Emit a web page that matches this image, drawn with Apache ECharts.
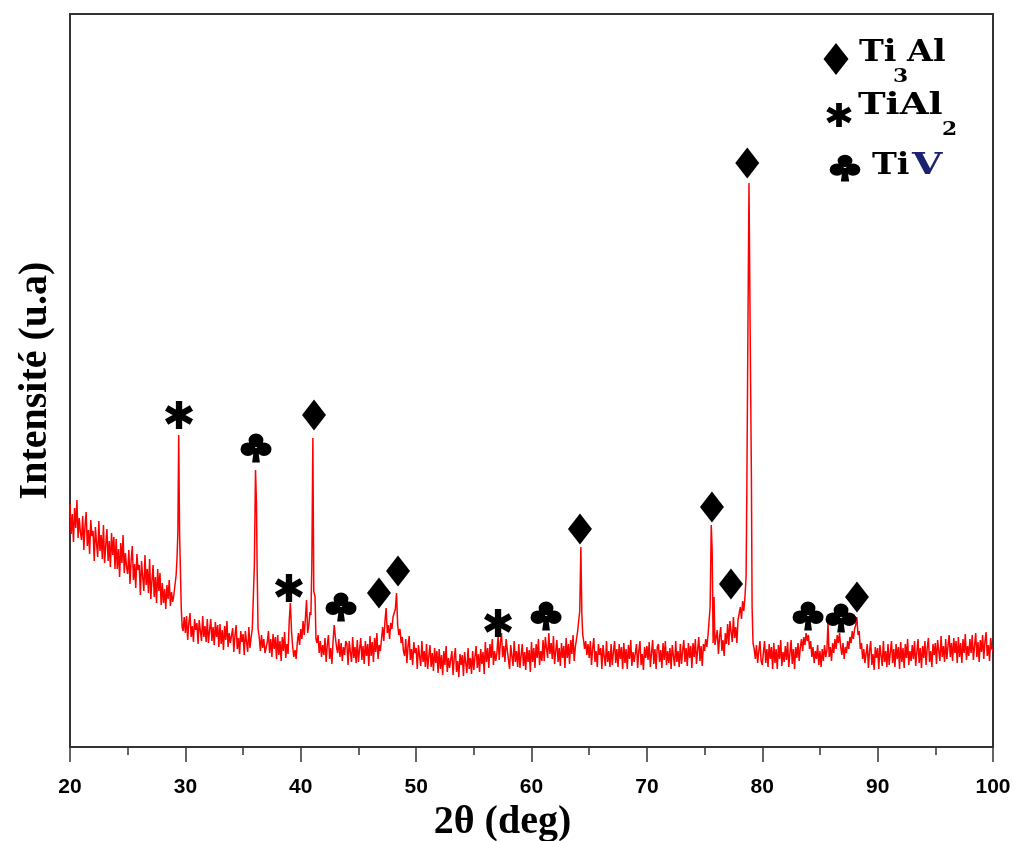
<!DOCTYPE html>
<html>
<head>
<meta charset="utf-8">
<title>XRD</title>
<script src="https://cdn.jsdelivr.net/npm/echarts@6/dist/echarts.min.js"></script>
<style>
  html, body { margin: 0; padding: 0; background: #fff; }
  #chart { width: 1019px; height: 841px; }
</style>
</head>
<body>
<div id="chart"></div>
<script>
// background counts, 20.0 .. 100.0 every 0.1 deg (a.u.)
// one row = one degree
const bgStart = 20;
const bgStep = 0.1;
const background = [
  243, 213, 233, 205, 239, 219, 247, 209, 229, 215,
  207, 231, 197, 221, 235, 201, 217, 193, 227, 211,
  216, 186, 220, 204, 190, 226, 196, 212, 188, 222,
  184, 202, 218, 186, 206, 180, 214, 192, 210, 178,
  208, 178, 198, 170, 204, 184, 212, 174, 194, 180,
  173, 197, 163, 187, 201, 167, 183, 159, 193, 177,
  182, 152, 186, 170, 156, 192, 162, 178, 154, 188,
  148, 166, 182, 150, 170, 144, 178, 156, 174, 142,
  164, 144, 158, 138, 162, 148, 167, 141, 155, 145,
  152, 150, 170, 190, 300, 210, 170, 130, 116, 130,
  114, 131, 107, 124, 134, 110, 121, 105, 128, 117,
  124, 103, 127, 116, 106, 131, 110, 121, 105, 128,
  104, 117, 128, 106, 120, 102, 125, 110, 122, 100,
  123, 103, 117, 97, 121, 107, 126, 100, 114, 104,
  102, 119, 95, 112, 122, 98, 109, 93, 116, 105,
  113, 92, 116, 105, 95, 120, 99, 110, 118, 135,
  180, 270, 200, 120, 110, 96, 112, 99, 108, 94,
  92, 105, 116, 94, 108, 90, 113, 98, 110, 88,
  112, 92, 106, 86, 110, 96, 115, 89, 103, 93,
  126, 144, 116, 100, 90, 97, 88, 104, 114, 102,
  118, 108, 126, 112, 128, 147, 114, 122, 135, 150,
  250, 200, 150, 110, 104, 112, 94, 106, 90, 102,
  92, 109, 85, 102, 112, 88, 99, 83, 106, 122,
  110, 100, 94, 108, 90, 104, 86, 100, 92, 106,
  103, 82, 106, 95, 85, 110, 89, 100, 84, 107,
  85, 98, 109, 87, 101, 83, 106, 91, 103, 81,
  111, 91, 105, 85, 109, 95, 114, 88, 102, 96,
  108, 120, 106, 126, 139, 114, 122, 108, 124, 118,
  130, 128, 138, 154, 122, 112, 118, 104, 110, 96,
  91, 108, 84, 101, 111, 87, 98, 82, 105, 94,
  99, 78, 102, 91, 81, 106, 85, 96, 80, 103,
  78, 91, 102, 80, 94, 76, 99, 84, 96, 74,
  98, 78, 92, 72, 96, 82, 101, 75, 89, 79,
  79, 96, 72, 89, 99, 75, 86, 70, 93, 82,
  92, 71, 95, 84, 74, 99, 78, 89, 73, 96,
  77, 90, 101, 79, 93, 75, 98, 83, 95, 73,
  105, 85, 99, 79, 103, 89, 108, 82, 96, 86,
  94, 111, 87, 104, 114, 90, 101, 85, 108, 97,
  99, 78, 102, 91, 81, 106, 85, 96, 80, 103,
  79, 92, 103, 81, 95, 77, 100, 85, 97, 75,
  105, 85, 99, 79, 103, 89, 108, 82, 96, 86,
  107, 86, 110, 99, 89, 114, 93, 104, 88, 111,
  83, 96, 107, 85, 99, 81, 104, 89, 101, 79,
  109, 89, 103, 83, 107, 93, 112, 86, 100, 108,
  116, 136, 180, 190, 112, 108, 98, 106, 92, 103,
  89, 106, 82, 99, 109, 85, 96, 80, 103, 92,
  99, 78, 102, 91, 81, 106, 85, 96, 80, 103,
  82, 95, 106, 84, 98, 80, 103, 88, 100, 78,
  104, 84, 98, 78, 102, 88, 107, 81, 95, 85,
  86, 103, 79, 96, 106, 82, 93, 77, 100, 89,
  101, 87, 105, 80, 94, 107, 83, 98, 78, 100,
  103, 85, 97, 79, 104, 87, 106, 82, 96, 84,
  99, 78, 102, 91, 81, 106, 85, 96, 80, 103,
  83, 96, 107, 85, 99, 81, 104, 89, 101, 79,
  104, 90, 108, 83, 97, 110, 86, 101, 81, 103,
  96, 108, 100, 112, 140, 180, 222, 150, 150, 102,
  100, 117, 93, 110, 120, 96, 107, 91, 114, 103,
  123, 102, 126, 115, 105, 130, 109, 120, 104, 127,
  125, 140, 128, 146, 136, 150, 170, 300, 500, 480,
  350, 200, 104, 98, 88, 102, 84, 96, 106, 86,
  82, 95, 106, 84, 98, 80, 103, 88, 100, 78,
  104, 84, 98, 78, 102, 88, 107, 81, 95, 85,
  101, 87, 105, 80, 94, 107, 83, 98, 78, 100,
  89, 104, 86, 100, 108, 96, 110, 102, 114, 106,
  112, 98, 106, 90, 100, 84, 96, 88, 102, 82,
  96, 80, 98, 86, 102, 90, 96, 124, 90, 100,
  86, 104, 94, 108, 98, 112, 104, 114, 100, 92,
  104, 88, 100, 94, 106, 98, 110, 104, 116, 108,
  118, 122, 130, 112, 116, 98, 104, 88, 98, 84,
  86, 103, 79, 96, 106, 82, 93, 77, 100, 89,
  99, 78, 102, 91, 81, 106, 85, 96, 80, 103,
  82, 95, 106, 84, 98, 80, 103, 88, 100, 78,
  105, 85, 99, 79, 103, 89, 108, 82, 96, 86,
  102, 88, 106, 81, 95, 108, 84, 99, 79, 101,
  89, 106, 82, 99, 109, 85, 96, 80, 103, 92,
  104, 83, 107, 96, 86, 111, 90, 101, 85, 108,
  88, 101, 112, 90, 104, 86, 109, 94, 106, 84,
  110, 90, 104, 84, 108, 94, 113, 87, 101, 91,
  108, 94, 112, 87, 101, 114, 90, 105, 85, 107,
  95, 112, 88, 105, 115, 91, 102, 86, 109, 98,
  96
];

// sharp reflections, finer sampling [2theta, counts]
const peak29 = [[29.1, 150], [29.2, 172], [29.28, 190], [29.35, 215], [29.42, 312], [29.5, 212], [29.56, 182], [29.64, 140], [29.72, 120]];
const peak36 = [[35.88, 118], [35.98, 182], [36.08, 277], [36.16, 244], [36.22, 178], [36.3, 118]];
const peak41 = [[40.88, 132], [40.96, 180], [41.05, 309], [41.13, 156], [41.24, 150], [41.32, 108]];
const peak64 = [[64.08, 118], [64.18, 136], [64.28, 200], [64.36, 134], [64.44, 112]];
const peak75 = [[75.38, 112], [75.48, 140], [75.58, 222], [75.66, 196], [75.74, 104], [75.82, 150], [75.9, 102]];
const peak79 = [[78.5, 150], [78.6, 170], [78.66, 250], [78.76, 420], [78.85, 564], [78.95, 420], [79.06, 270], [79.12, 140], [79.2, 104]];
const peaks = [peak29, peak36, peak41, peak64, peak75, peak79];

// phase marks placed over the reflections
const ti3alMarks = [[41.15, 332], [46.78, 154], [48.43, 176], [64.2, 218], [75.64, 240], [77.29, 163], [78.7, 584], [88.21, 150]];
const tial2Marks = [[29.45, 332], [38.98, 159], [57.1, 124]];
const tivMarks = [[36.12, 299], [43.49, 140], [61.26, 131], [83.97, 131], [86.83, 129]];

const xTicks = [20, 30, 40, 50, 60, 70, 80, 90, 100];

const STAR = 'path://M39,0L61,0L61,100L39,100Z M87.8,15.5L98.8,34.5L12.2,84.5L1.2,65.5Z M98.8,65.5L87.8,84.5L1.2,34.5L12.2,15.5Z';
const CLUB = 'path://M50,2A23,23,0,1,1,49.9,2Z M25,32A23,23,0,1,1,24.9,32Z M75,32A23,23,0,1,1,74.9,32Z M44,50L56,50L62,100L38,100Z';

const buildPattern = () => {
  const pts = [];
  background.forEach((h, i) => {
    const x = +(bgStart + i * bgStep).toFixed(2);
    const covered = peaks.some(p => x >= p[0][0] && x <= p[p.length - 1][0]);
    if (!covered) pts.push([x, h]);
  });
  peaks.forEach(p => p.forEach(pt => pts.push(pt)));
  pts.sort((a, b) => a[0] - b[0]);
  return pts;
};

const serif = '"Liberation Serif", "Times New Roman", serif';
const legendFont = '"DejaVu Serif", "Liberation Serif", serif';
const black = { fill: '#000' };

// legend glyphs, drawn in a 100 unit box centred on (0,0)
const diamondIcon = (cx, cy, w, h) => ({
  type: 'group', x: cx, y: cy, scaleX: w / 100, scaleY: h / 100,
  children: [{ type: 'polygon', shape: { points: [[0, -50], [50, 0], [0, 50], [-50, 0]] }, style: black }]
});
const starIcon = (cx, cy, w, h) => ({
  type: 'group', x: cx, y: cy, scaleX: w / 100, scaleY: h / 100,
  children: [0, 60, -60].map(d => ({
    type: 'rect', rotation: d * Math.PI / 180,
    shape: { x: -11, y: -50, width: 22, height: 100 }, style: black
  }))
});
const clubIcon = (cx, cy, w, h) => ({
  type: 'group', x: cx, y: cy, scaleX: w / 100, scaleY: h / 100,
  children: [
    { type: 'circle', shape: { cx: 0, cy: -26, r: 23 }, style: black },
    { type: 'circle', shape: { cx: -25, cy: 6, r: 23 }, style: black },
    { type: 'circle', shape: { cx: 25, cy: 6, r: 23 }, style: black },
    { type: 'polygon', shape: { points: [[-7, 0], [7, 0], [13, 50], [-13, 50]] }, style: black }
  ]
});
const legendText = (x, y, text, size, color, sx) => ({
  type: 'text', x: x, y: y, scaleX: sx || 1.15,
  style: { text: text, font: 'bold ' + size + 'px ' + legendFont, fill: color || '#000', align: 'left', verticalAlign: 'middle' }
});

var myChart = echarts.init(document.getElementById('chart'));
myChart.setOption({
  animation: false,
  backgroundColor: '#fff',
  grid: {
    left: 70, right: 26, top: 14, bottom: 94,
    show: true, borderColor: '#333', borderWidth: 2,
    outerBoundsMode: 'none'
  },
  xAxis: {
    type: 'value',
    min: 20, max: 100, interval: 10,
    name: '2θ (deg)',
    nameLocation: 'middle',
    nameGap: 50,
    nameTextStyle: { fontFamily: serif, fontWeight: 'bold', fontSize: 40, color: '#000', padding: [0, 58, 0, 0] },
    axisLine: { show: true, lineStyle: { color: '#333', width: 2 } },
    axisTick: { show: true, length: 15, lineStyle: { color: '#333', width: 1.5 } },
    minorTick: { show: true, splitNumber: 2, length: 8, lineStyle: { color: '#333', width: 1.5 } },
    splitLine: { show: false },
    axisLabel: {
      margin: 30, color: '#000', fontFamily: '"Liberation Sans", Arial, sans-serif', fontWeight: 'bold', fontSize: 21,
      showMinLabel: true, showMaxLabel: true,
      formatter: v => (xTicks.indexOf(v) >= 0 ? String(v) : '')
    }
  },
  yAxis: {
    type: 'value',
    min: 0, max: 733,
    name: 'Intensité (u.a)',
    nameLocation: 'middle',
    nameGap: 14,
    nameTextStyle: { fontFamily: serif, fontWeight: 'bold', fontSize: 40, color: '#000' },
    axisLine: { show: true, lineStyle: { color: '#333', width: 2 } },
    axisTick: { show: false },
    axisLabel: { show: false },
    splitLine: { show: false }
  },
  series: [
    {
      name: 'XRD',
      type: 'line',
      data: buildPattern(),
      showSymbol: false,
      silent: true,
      lineStyle: { color: '#ff0000', width: 1.5 },
      z: 2
    },
    {
      name: 'Ti3Al', type: 'scatter', data: ti3alMarks,
      symbol: 'diamond', symbolSize: [24, 31],
      itemStyle: { color: '#000', opacity: 1 }, z: 5
    },
    {
      name: 'TiAl2', type: 'scatter', data: tial2Marks,
      symbol: STAR, symbolSize: [28, 28],
      itemStyle: { color: '#000', opacity: 1 }, z: 5
    },
    {
      name: 'TiV', type: 'scatter', data: tivMarks,
      symbol: CLUB, symbolSize: [31, 29],
      itemStyle: { color: '#000', opacity: 1 }, z: 5
    }
  ],
  graphic: [
    diamondIcon(836, 59, 25, 32),
    legendText(859, 53, 'Ti', 29),
    legendText(893, 77, '3', 19),
    legendText(907, 53, 'Al', 29),
    starIcon(839, 115, 26, 24),
    legendText(858, 106, 'TiAl', 29, '#000', 1.28),
    legendText(942, 130, '2', 19),
    clubIcon(845, 168, 32, 27),
    legendText(872, 166, 'Ti', 29),
    legendText(912, 166, 'V', 29, '#1a2370', 1.35)
  ]
});
window.onresize = function () {
  myChart.resize();
};
</script>
</body>
</html>
